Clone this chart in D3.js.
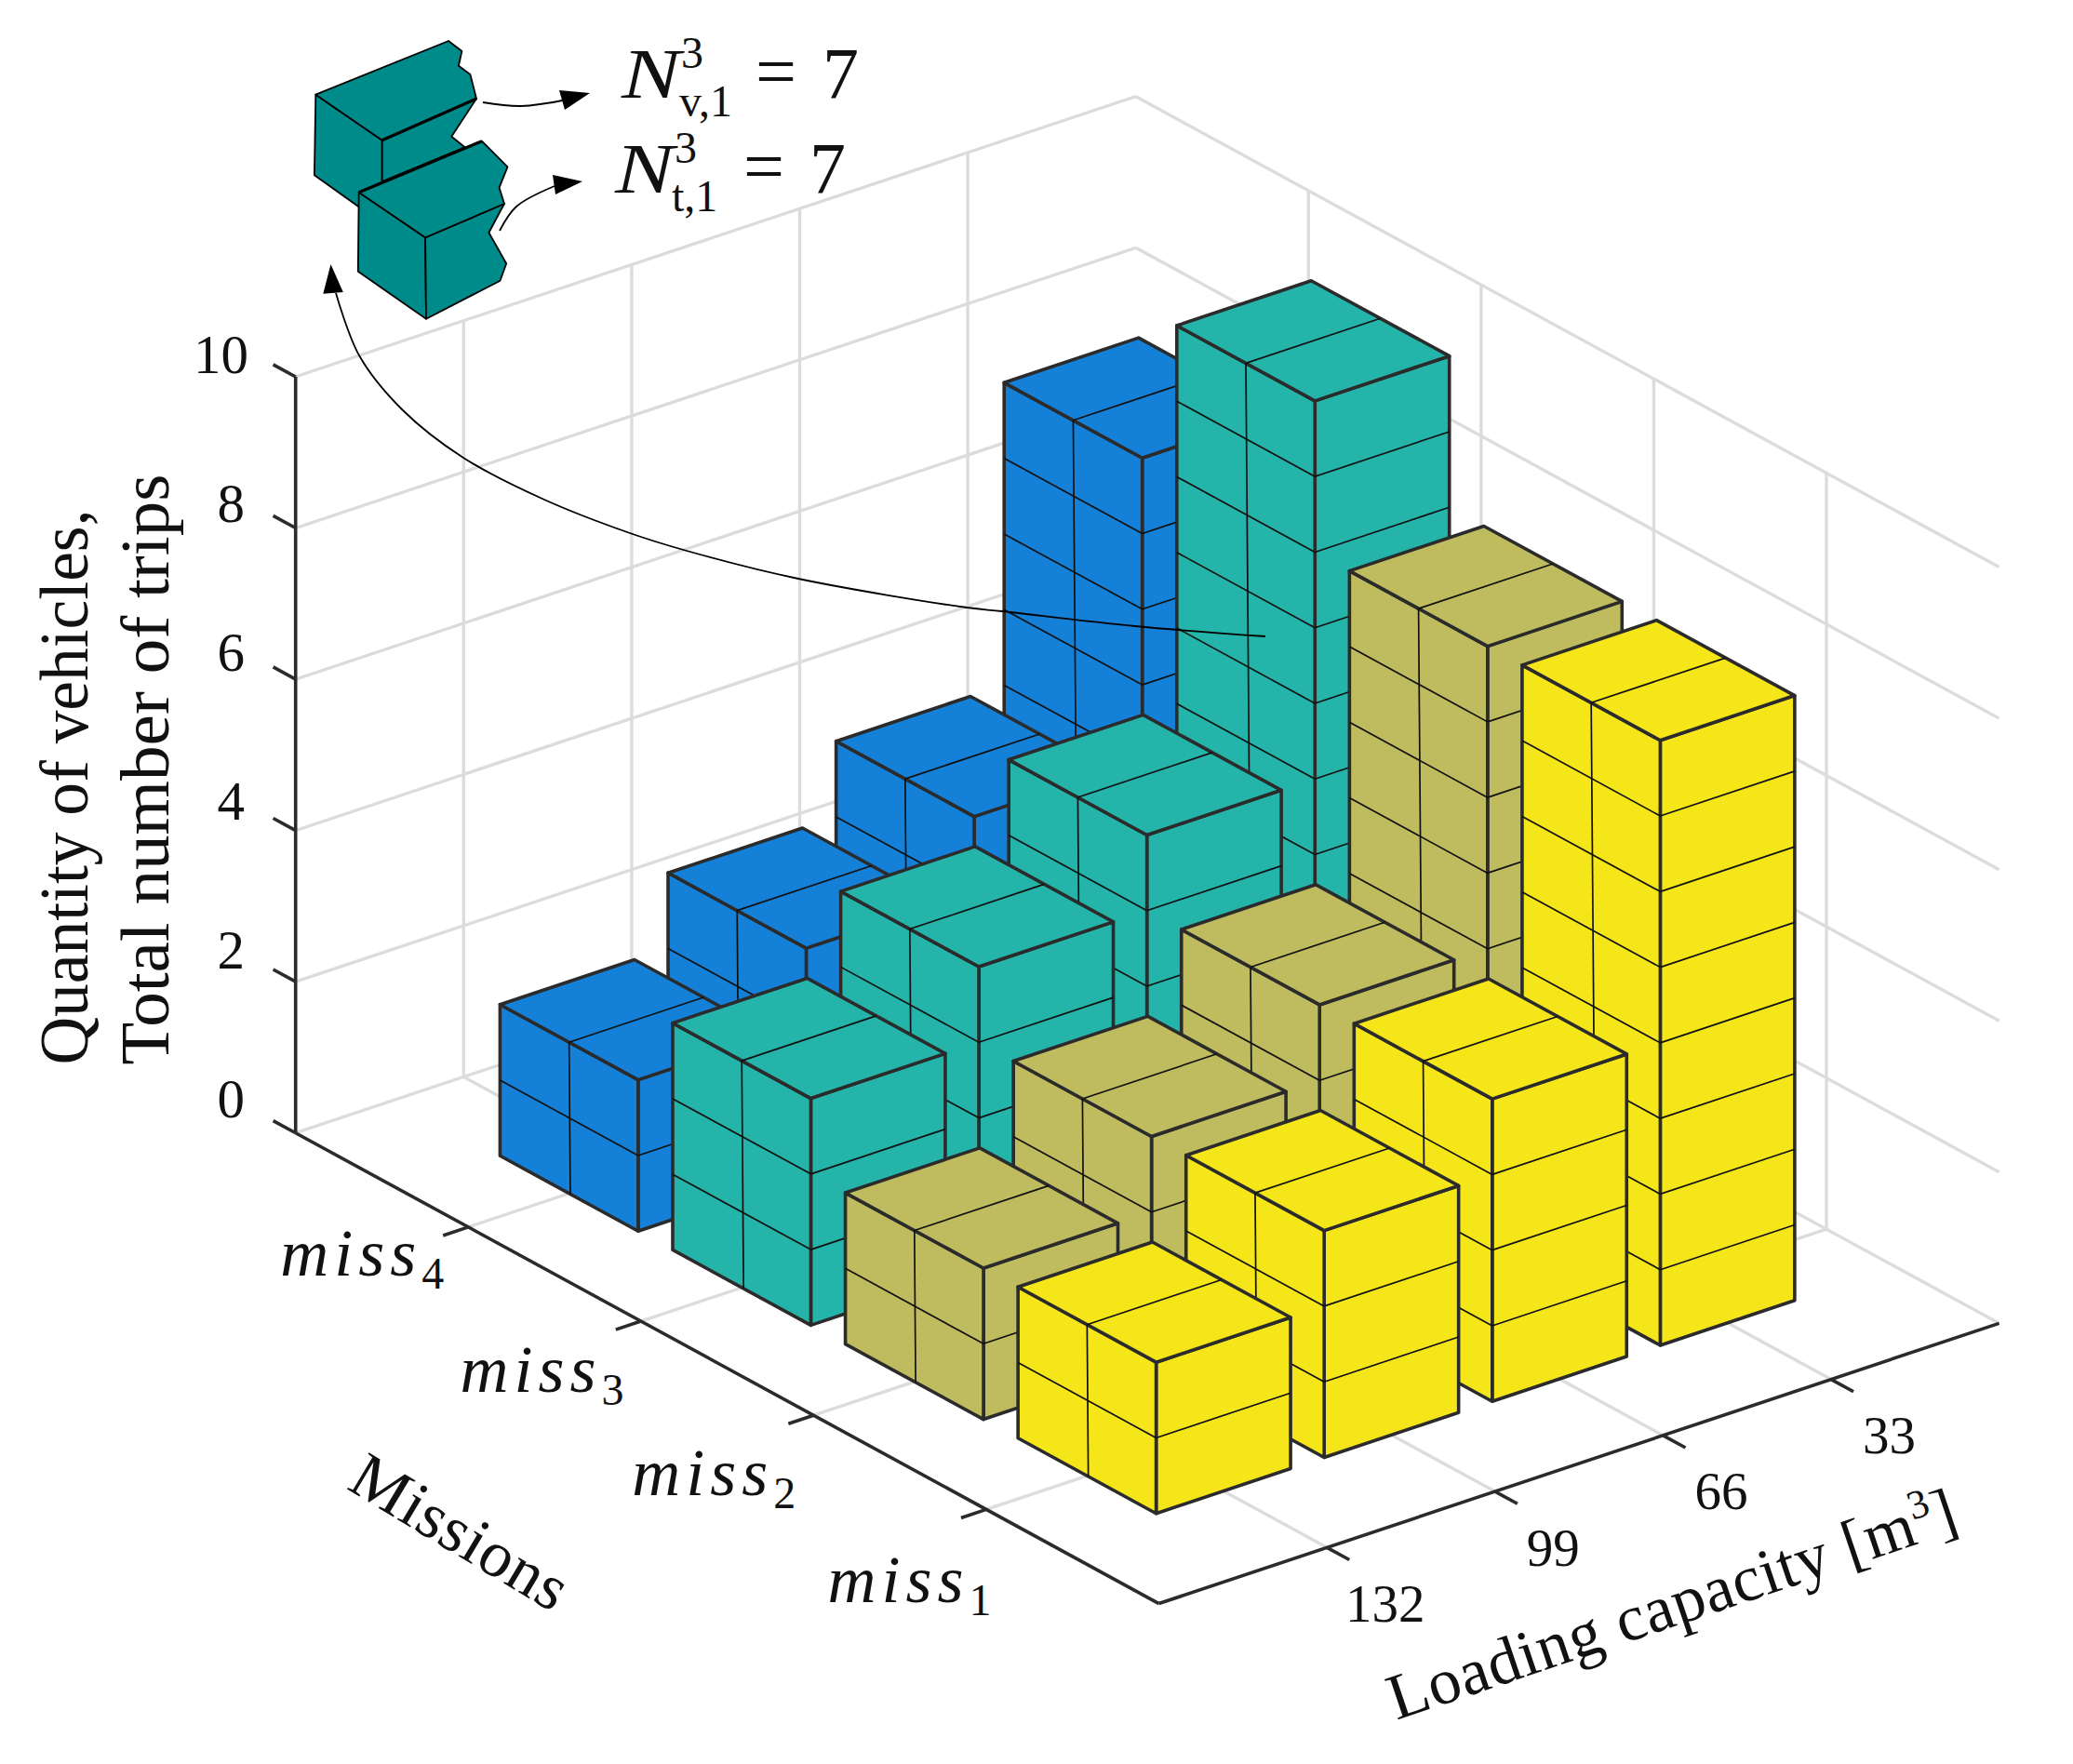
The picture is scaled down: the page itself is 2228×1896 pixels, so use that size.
<!DOCTYPE html>
<html><head><meta charset="utf-8">
<script src="https://cdn.jsdelivr.net/npm/d3@7"></script>
<style>
html,body{margin:0;padding:0;background:#fff}
svg{display:block}
text{font-family:"Liberation Serif",serif;fill:#111}
</style></head><body>
<svg id="c" width="2228" height="1896" xmlns="http://www.w3.org/2000/svg"></svg>
<script>
// ---- data ----
const missions = ["miss1","miss2","miss3","miss4"];
const capacities = [132,99,66,33];
const miss1Trips = [2,3,4,8];
const miss2Trips = [2,3,4,8];
const miss3Trips = [3,4,5,10];
const miss4Trips = [2,3,4,8];
const seriesValues = [miss1Trips,miss2Trips,miss3Trips,miss4Trips];
const seriesColors = ["#f5e61a","#bfbc5f","#24b4a9","#1480d8"];
const zTicks = [0,2,4,6,8,10];
const barWidth = 0.8;

// ---- projection built from linear scales (full pixel space) ----
const k = 2228/1568;
const O = [876.6*k,1213*k];
const uX = d3.scaleLinear([0,5],[0,635.5*k]), uY = d3.scaleLinear([0,5],[0,-212*k]);
const vX = d3.scaleLinear([0,5],[0,-653*k]), vY = d3.scaleLinear([0,5],[0,-356*k]);
const zY = d3.scaleLinear([0,10],[0,-572*k]);
const P = (u,v,z=0)=>[O[0]+uX(u)+vX(v), O[1]+uY(u)+vY(v)+zY(z)];

const svg = d3.select("#c");
const line = d3.line();
const seg = (g,a,b,cls)=>g.append("path").attr("d",line([a,b])).attr("class",cls)
  .attr("fill","none").attr("stroke",cls==="grid"?"#dcdcdc":cls==="axis"?"#2b2b2b":"#111")
  .attr("stroke-width",cls==="grid"?3.4:cls==="axis"?3.6:1.7);

// ---- grid ----
const grid = svg.append("g");
for(const z of zTicks){
  seg(grid,P(0,5,z),P(5,5,z),"grid");
  seg(grid,P(5,5,z),P(5,0,z),"grid");
}
d3.range(1,5).forEach(t=>{
  seg(grid,P(t,5,0),P(t,5,10),"grid");
  seg(grid,P(5,t,0),P(5,t,10),"grid");
  seg(grid,P(t,0,0),P(t,5,0),"grid");
  seg(grid,P(0,t,0),P(5,t,0),"grid");
});

// ---- axes ----
const axes = svg.append("g");
seg(axes,P(0,5,0),P(0,0,0),"axis");
seg(axes,P(0,0,0),P(5,0,0),"axis");
seg(axes,P(0,5,0),P(0,5,10),"axis");
for(const z of zTicks) seg(axes,P(0,5,z),P(0,5.13,z),"axis");
d3.range(1,5).forEach(t=>{
  seg(axes,P(0,t,0),P(-0.15,t,0),"axis");
  seg(axes,P(t,0,0),P(t,-0.13,0),"axis");
});

// ---- bars (painter's order: back to front) ----
const bars = svg.append("g");
const hw = barWidth/2;
d3.range(3,-1,-1).forEach(m=>{
  d3.range(3,-1,-1).forEach(c=>{
    const h = seriesValues[m][c], col = seriesColors[m];
    const u0=c+1-hw,u1=c+1+hw,v0=m+1-hw,v1=m+1+hw,vm=m+1;
    const g = bars.append("g");
    const face = pts=>g.append("path").attr("d",line(pts)+"Z").attr("fill",col)
      .attr("stroke","#2b2b2b").attr("stroke-width",3.6).attr("stroke-linejoin","round");
    face([P(u0,v0,0),P(u1,v0,0),P(u1,v0,h),P(u0,v0,h)]);   // right face
    face([P(u0,v1,0),P(u0,v0,0),P(u0,v0,h),P(u0,v1,h)]);   // left face
    face([P(u0,v1,h),P(u0,v0,h),P(u1,v0,h),P(u1,v1,h)]);   // top
    d3.range(1,h).forEach(z=>{
      seg(g,P(u0,v1,z),P(u0,v0,z),"thin");
      seg(g,P(u0,v0,z),P(u1,v0,z),"thin");
    });
    seg(g,P(u0,vm,h),P(u0,vm-0.0035*h,0),"thin");
    seg(g,P(u0,vm,h),P(u1,vm,h),"thin");
  });
});

// ---- tick labels ----
const labels = svg.append("g");
const zLabelY = d3.scaleLinear([0,10],[1201,400.6]);
zTicks.forEach(z=>{
  labels.append("text").attr("x",z===10?267:263).attr("text-anchor","end")
    .attr("y",zLabelY(z)).attr("font-size",59).text(z);
});
capacities.forEach((c,i)=>{
  const p=P(i+1,0,0);
  labels.append("text").attr("x",p[0]+44*k).attr("y",p[1]+56*k)
    .attr("text-anchor","middle").attr("font-size",57).text(c);
});
const missLabelX=[626,478,348,212], missLabelY=[1212,1131,1053,965];
missions.forEach((m,i)=>{
  const t=labels.append("text").attr("x",missLabelX[i]*k).attr("y",missLabelY[i]*k)
    .attr("font-size",72);
  t.append("tspan").attr("font-style","italic").attr("letter-spacing",6).text(m.slice(0,4));
  t.append("tspan").attr("font-size",48).attr("dy",14).text(m.slice(4));
});

// ---- axis titles ----
const vTitle=(txt,x,yc,len)=>labels.append("text")
  .attr("transform",`translate(${x},${yc}) rotate(-90)`)
  .attr("text-anchor","middle").attr("font-size",74)
  .attr("textLength",len).attr("lengthAdjust","spacingAndGlyphs").text(txt);
vTitle("Quantity of vehicles,",94,846,597);
vTitle("Total number of trips",181,827,635);
labels.append("text").attr("transform",`translate(${340*k},${1173*k}) rotate(31)`)
  .attr("text-anchor","middle").attr("font-size",70).attr("letter-spacing",1).text("Missions");
const lc=labels.append("text").attr("transform",`translate(${1270*k},${1229*k}) rotate(-18.7)`)
  .attr("text-anchor","middle").attr("font-size",70).attr("letter-spacing",0.8);
lc.append("tspan").text("Loading capacity [m");
lc.append("tspan").attr("font-size",44).attr("dy",-26).text("3");
lc.append("tspan").attr("dy",26).text("]");

// ---- inset: cut block icon ----
const icon=svg.append("g").attr("fill","#008b8b").attr("stroke","#000").attr("stroke-width",1.8).attr("stroke-linejoin","round");
const iconFaces=[
 [[339.3,101.7],[410.7,150.7],[410.7,195],[384.8,221.7],[337.9,188.3]],
 [[410.7,150.7],[512,106],[485.3,146.7],[499.6,158.3],[410.7,195]],
 [[339.3,101.7],[482.1,44],[496.4,55],[492.9,70.7],[505.4,80],[512,106],[410.7,150.7]],
 [[385.7,206.7],[457.1,255.3],[458,342.7],[384.8,291.7]],
 [[457.1,255.3],[542,219],[525.4,250],[544.2,283.3],[537.5,301.7],[458,342.7]],
 [[385.7,206.7],[517.9,151.7],[545.5,179.3],[536.6,201.7],[542,219],[457.1,255.3]]
];
iconFaces.forEach(f=>icon.append("path").attr("d",line(f)+"Z"));
icon.append("path").attr("d",line([[410.7,150.7],[512,106]])).attr("stroke-width",3.2);
icon.append("path").attr("d",line([[385.7,206.7],[517.9,151.7]])).attr("stroke-width",3.2);

// ---- annotation arrows ----
const ann=svg.append("g");
const curve=d3.line().curve(d3.curveCatmullRom.alpha(0.5));
const arrow=(pts,head)=>{
  ann.append("path").attr("d",curve(pts)).attr("fill","none").attr("stroke","#000").attr("stroke-width",1.8);
  ann.append("path").attr("d",line(head)+"Z").attr("fill","#000");
};
arrow([[519,110],[560,114],[610,107]],[[634,100],[601,97],[607,118]]);
arrow([[537,248],[555,222],[596,200]],[[626,195],[594,188],[597,209]]);
arrow([[1360,684],[1220,673],[1077,657],[1039,653],[858,622],[738,592],[677,573],[585,537],[498,492],[432,440],[386,382],[361,315]],
      [[355.5,284],[347.3,315.7],[368.8,314]]);

// ---- formula labels ----
const formula=(x,y,sub,sx,sy,ssx,ex,nx)=>{
  const g=svg.append("g");
  g.append("text").attr("transform",`translate(${x},${y}) scale(1.25,1)`).attr("font-size",76).attr("font-style","italic").text("N");
  g.append("text").attr("x",sx).attr("y",y-32).attr("font-size",48).text("3");
  g.append("text").attr("x",ssx).attr("y",sy).attr("font-size",48).text(sub);
  g.append("text").attr("x",ex).attr("y",y-2).attr("font-size",78).text("=");
  g.append("text").attr("x",nx).attr("y",y).attr("font-size",78).text("7");
};
formula(668,105,"v,1",732,125,730,812,884);
formula(661,207,"t,1",725,227,722,799,870);
</script>
</body></html>
